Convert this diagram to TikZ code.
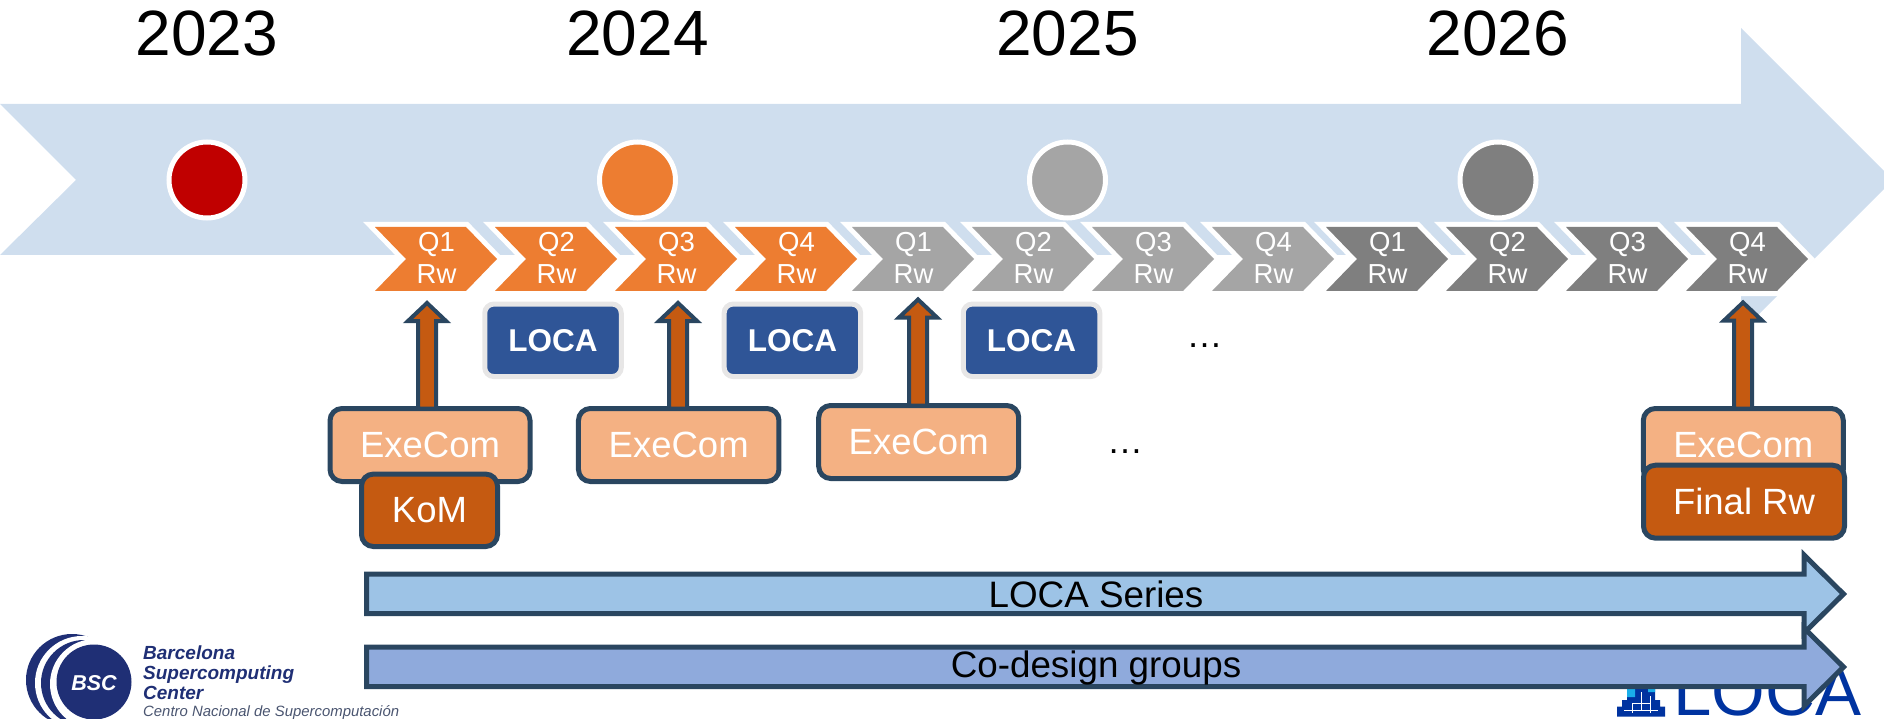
\documentclass[tikz,border=0pt]{standalone}
\usepackage{fontspec}
\setmainfont{Liberation Sans}
\usetikzlibrary{calc}
\definecolor{bandblue}{HTML}{CFDEEE}
\definecolor{darkred}{HTML}{C00000}
\definecolor{orangeQ}{HTML}{ED7D31}
\definecolor{grayQ}{HTML}{A5A5A5}
\definecolor{darkQ}{HTML}{7F7F7F}
\definecolor{edgeblue}{HTML}{2A4660}
\definecolor{exefill}{HTML}{F4B183}
\definecolor{rustfill}{HTML}{C55A11}
\definecolor{locablue}{HTML}{2F5597}
\definecolor{locaedge}{HTML}{E7E6E6}
\definecolor{seriesfill}{HTML}{9DC3E6}
\definecolor{codesfill}{HTML}{8FAADC}
\definecolor{bscnavy}{HTML}{1F2F75}
\definecolor{bscgray}{HTML}{4A5570}
\definecolor{logoblue}{HTML}{0033A0}
\definecolor{logocyan}{HTML}{1AAEEA}
\tikzset{
  yearlabel/.style={font=\fontsize{64}{70}\selectfont,inner sep=0pt},
  yeardot/.style={circle,draw=white,line width=5pt,fill=#1,minimum size=76pt,inner sep=0pt,outer sep=0pt},
  chev/.style={preaction={draw=white,line width=10pt},fill=#1},
  chevtext/.style={align=center,text=white,inner sep=0pt,font=\fontsize{27.5}{32}\selectfont},
  locabox/.style={draw=locaedge,fill=locablue,line width=5pt,rounded corners=9pt,minimum width=136.5pt,minimum height=72.5pt,inner sep=0pt,outer sep=0pt,text=white,font=\fontsize{31.5}{36}\selectfont\bfseries},
  meetbox/.style={draw=edgeblue,fill=#1,line width=5pt,rounded corners=12pt,inner sep=0pt,outer sep=0pt,text=white,font=\fontsize{36.5}{40}\selectfont},
  blockup/.style={draw=edgeblue,fill=rustfill,line width=4pt},
  longarrow/.style={draw=edgeblue,fill=#1,line width=5pt},
  longtext/.style={inner sep=0pt,font=\fontsize{36.8}{40}\selectfont},
  moredots/.style={inner sep=0pt,anchor=base,font=\fontsize{36}{40}\selectfont},
  bsctext/.style={anchor=base west,inner sep=0pt,text=bscnavy,font=\fontsize{19}{22}\selectfont\bfseries\itshape}
}
\newcommand{\blockup}[2]{\draw[blockup] ([xshift=-9pt]#2 |- #1.north) -- ([shift={(-9,18)}]#2) -- ([shift={(-19,18)}]#2) -- (#2) -- ([shift={(19,18)}]#2) -- ([shift={(9,18)}]#2) -- ([xshift=9pt]#2 |- #1.north) -- cycle;}
\begin{document}
\begin{tikzpicture}[x=1pt,y=-1pt]
\useasboundingbox (0,0) rectangle (1884,719);
\fill[bandblue] (0,104) -- (1741,104) -- (1741,28) -- (1893,180) -- (1741,332) -- (1741,255) -- (0,255) -- (76,180) -- cycle;
\foreach \xc/\yr/\col in {207/2023/darkred,637.5/2024/orangeQ,1067.5/2025/grayQ,1498/2026/darkQ}{
  \node[yearlabel] (year\yr) at (\xc,33) {\yr};
  \node[yeardot=\col] (dot\yr) at (\xc,180) {};
}
\foreach \xl/\q/\col [count=\i] in {375/1/orangeQ,495/2/orangeQ,615/3/orangeQ,735/4/orangeQ,852/1/grayQ,972/2/grayQ,1092/3/grayQ,1212/4/grayQ,1326/1/darkQ,1446/2/darkQ,1566/3/darkQ,1686/4/darkQ}{
  \path[chev=\col] (\xl,227) -- ++(91,0) -- ++(31,32) -- ++(-31,32) -- ++(-91,0) -- ++(31,-32) -- cycle;
  \node[chevtext] (rw\i) at (\xl+61.5,258) {Q\q\\Rw};
}
\node[locabox] (locaA) at (553,340.3) {LOCA};
\node[locabox] (locaB) at (792.4,340.3) {LOCA};
\node[locabox] (locaC) at (1031.5,340.3) {LOCA};
\node[moredots] (dotsA) at (1204.5,347) {…};
\node[moredots] (dotsB) at (1125,453) {…};
\node[meetbox=exefill,minimum width=200pt,minimum height=73pt] (exeA) at (430,445) {ExeCom};
\node[meetbox=exefill,minimum width=200.5pt,minimum height=73pt] (exeB) at (678.7,445) {ExeCom};
\node[meetbox=exefill,minimum width=200pt,minimum height=73pt] (exeC) at (918.7,442) {ExeCom};
\node[meetbox=exefill,minimum width=200pt,minimum height=73pt] (exeD) at (1743.3,445) {ExeCom};
\node[meetbox=rustfill,minimum width=136pt,minimum height=72.5pt] (kom) at (429.5,510.3) {KoM};
\node[meetbox=rustfill,minimum width=201pt,minimum height=73pt] (finalrw) at (1744,501.7) {Final Rw};
\coordinate (tipA) at (427,303);
\coordinate (tipB) at (678,303);
\coordinate (tipC) at (918,299.5);
\coordinate (tipD) at (1743,302.5);
\blockup{exeA}{tipA}
\blockup{exeB}{tipB}
\blockup{exeC}{tipC}
\blockup{exeD}{tipD}
\fill[bscnavy] (72,680) circle (46);
\fill[white] (82,683) circle (47);
\fill[bscnavy] (84,683) circle (43);
\fill[white] (95,684) circle (45);
\fill[bscnavy] (94,682) circle (37.5);
\node[text=white,inner sep=0pt,font=\fontsize{21.5}{24}\selectfont\bfseries\itshape] (bsc) at (94,683) {BSC};
\node[bsctext] (bscA) at (143,659) {Barcelona};
\node[bsctext] (bscB) at (143,679) {Supercomputing};
\node[bsctext] (bscC) at (143,699) {Center};
\node[anchor=base west,inner sep=0pt,text=bscgray,font=\fontsize{14.9}{17}\selectfont\itshape] (bscD) at (143,716) {Centro Nacional de Supercomputación};
\node[anchor=base west,inner sep=0pt,text=logoblue,font=\fontsize{69}{72}\selectfont] (locologo) at (1673,715.5) {LOCA};
\fill[logoblue] (1617,706.7) rectangle (1665,716.7) (1622,700) rectangle (1660,706.7) (1627,689) rectangle (1655,700);
\fill[logocyan] (1627,689) rectangle (1635,697) (1648,689) rectangle (1655,692);
\draw[white,line width=0.8pt] (1624,710) -- (1658,710) (1632,703) -- (1650,703) (1632,703) -- (1632,713) (1641,692) -- (1641,710) (1650,696) -- (1650,713);
\draw[longarrow=seriesfill] (366.5,574) -- (1804,574) -- (1804,555) -- (1843.5,594) -- (1804,633) -- (1804,613.5) -- (366.5,613.5) -- cycle;
\node[longtext] (series) at (1096,594.5) {LOCA Series};
\draw[longarrow=codesfill] (366.5,647) -- (1804,647) -- (1804,628) -- (1843.5,667) -- (1804,706) -- (1804,686.5) -- (366.5,686.5) -- cycle;
\node[longtext] (codesign) at (1096,668) {Co-design groups};
\end{tikzpicture}
\end{document}
